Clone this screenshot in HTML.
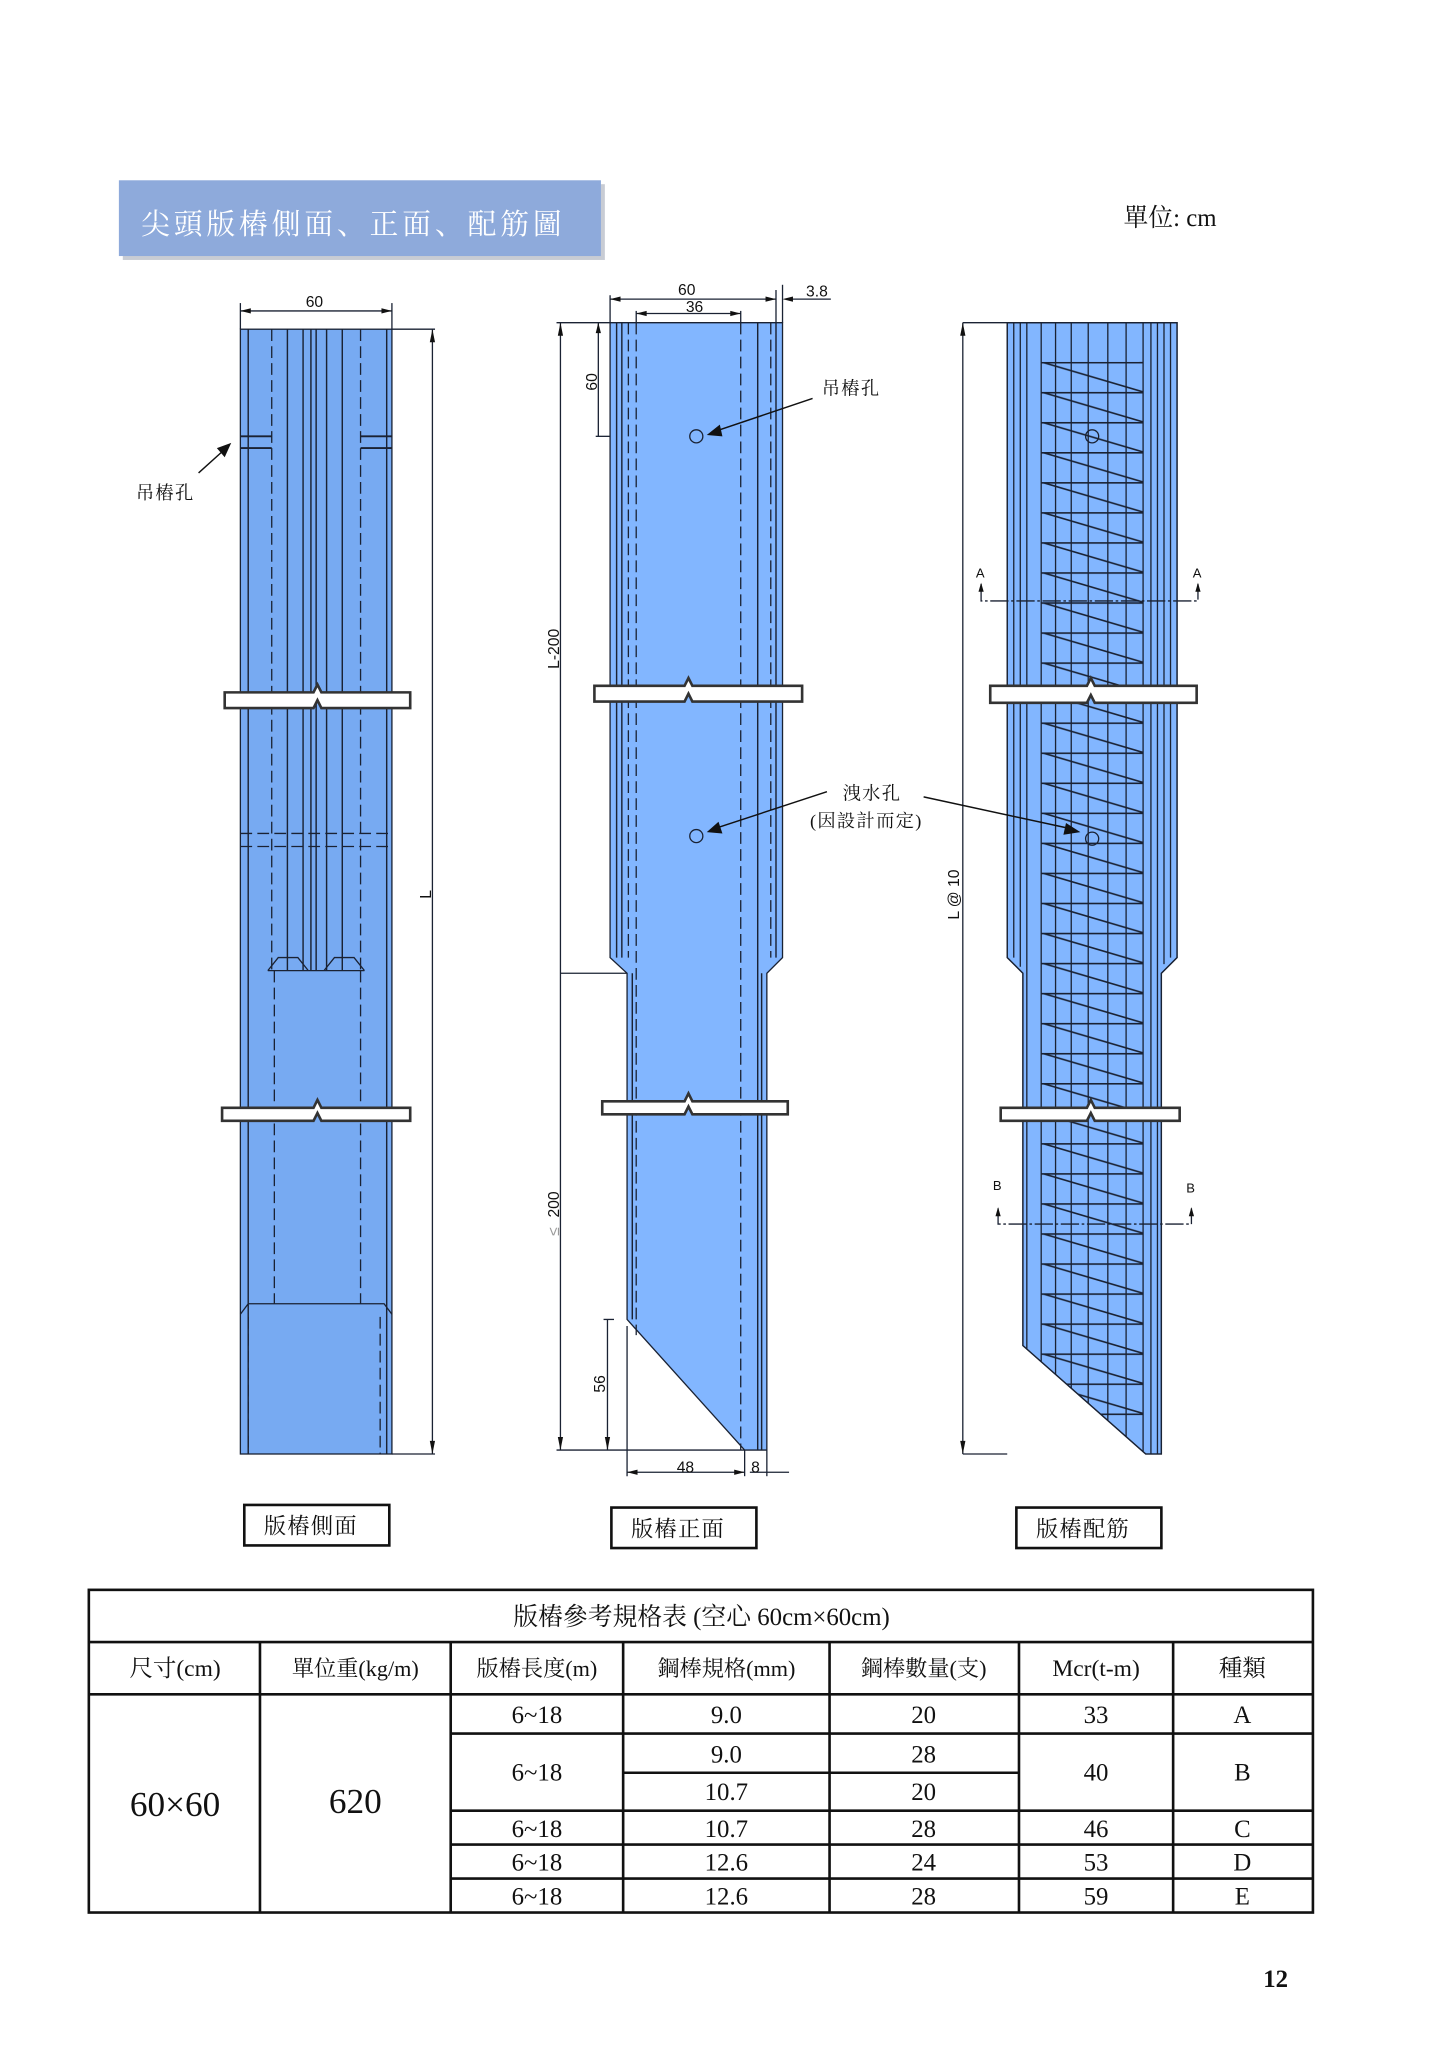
<!DOCTYPE html>
<html><head><meta charset="utf-8"><style>
html,body{margin:0;padding:0;background:#fff;width:1448px;height:2048px;overflow:hidden}
svg{display:block}
text{font-family:"Liberation Serif","Noto Serif CJK SC",serif;fill:#111}
.s{font-family:"Liberation Sans","Noto Sans CJK TC",sans-serif}
</style></head><body>
<svg width="1448" height="2048" viewBox="0 0 1108.4 1567.7" preserveAspectRatio="none" xmlns="http://www.w3.org/2000/svg">
<defs>
<pattern id="zz" patternUnits="userSpaceOnUse" x="797" y="277" width="78" height="23">
<line x1="0" y1="0.6" x2="78" y2="0.6" stroke="#1a2233" stroke-width="1.2"/>
<line x1="0" y1="0" x2="78" y2="23" stroke="#1a2233" stroke-width="1.2"/>
</pattern>
<clipPath id="p3c"><path d="M771 247 H901 V733 L889 745 V1113 H877 L783 1030 V745 L771 733 Z"/></clipPath>
</defs>
<rect x="94" y="141" width="369" height="58" fill="#c8ccd4"/>
<rect x="91" y="138" width="369" height="58" fill="#8eaadb"/>
<text x="108" y="179" font-size="22" style="fill:#fff" letter-spacing="3">尖頭版樁側面、正面、配筋圖</text>
<text x="860" y="173" font-size="19">單位: cm</text>

<g stroke="#1a2233" fill="none" stroke-width="1">
<rect x="184" y="252" width="116" height="861" fill="#77aaf2"/>
<g stroke-width="1.1">
<line x1="190" y1="252" x2="190" y2="1113"/><line x1="296" y1="252" x2="296" y2="1113"/>
<line x1="220" y1="252" x2="220" y2="743"/><line x1="232" y1="252" x2="232" y2="743"/>
<line x1="238" y1="252" x2="238" y2="743"/><line x1="242" y1="252" x2="242" y2="743"/>
<line x1="250" y1="252" x2="250" y2="743"/><line x1="262" y1="252" x2="262" y2="743"/>
</g>
<g stroke-dasharray="9,4">
<line x1="208" y1="252" x2="208" y2="743"/><line x1="276" y1="252" x2="276" y2="743"/>
<line x1="210" y1="743" x2="210" y2="998"/><line x1="276" y1="743" x2="276" y2="998"/>
<line x1="190" y1="1008" x2="190" y2="1113"/><line x1="291" y1="1008" x2="291" y2="1113"/>
<line x1="184" y1="638" x2="300" y2="638"/><line x1="184" y1="648" x2="300" y2="648"/>
</g>
<path d="M205 743 L213 733 L228 733 L236 743 M248 743 L256 733 L271 733 L279 743 M205 743 H279"/>
<path d="M184 1006 L190 998 H294 L300 1006"/>
<path d="M184 334 H208 M184 343 H208 M276 334 H300 M276 343 H300" stroke-width="1.4"/>
<line x1="184" y1="232" x2="184" y2="252"/><line x1="300" y1="232" x2="300" y2="252"/>
<line x1="184" y1="238" x2="300" y2="238"/>
<line x1="300" y1="252" x2="333" y2="252"/><line x1="300" y1="1113" x2="333" y2="1113"/>
<line x1="331" y1="252" x2="331" y2="1113"/>

<path d="M467 247 H599 V733 L587 745 V1110 H570 L480 1010 V745 L467 733 Z" fill="#82b6ff"/>
<g stroke-width="1.1">
<line x1="472" y1="247" x2="472" y2="733"/><line x1="476" y1="247" x2="476" y2="733"/>
<line x1="594" y1="247" x2="594" y2="733"/><line x1="580" y1="247" x2="580" y2="1110"/>
<line x1="484" y1="745" x2="484" y2="1010"/><line x1="583" y1="745" x2="583" y2="1110"/>
</g>
<g stroke-dasharray="9,4">
<line x1="481" y1="247" x2="481" y2="733"/><line x1="487" y1="247" x2="487" y2="1022"/>
<line x1="567" y1="247" x2="567" y2="1110"/><line x1="590" y1="247" x2="590" y2="733"/>
</g>
<circle cx="533" cy="334" r="5"/><circle cx="533" cy="640" r="5"/>
<line x1="467" y1="226" x2="467" y2="247"/><line x1="599" y1="218" x2="599" y2="247"/>
<line x1="487" y1="238" x2="487" y2="247"/><line x1="567" y1="238" x2="567" y2="247"/>
<line x1="467" y1="229" x2="594" y2="229"/><line x1="487" y1="240" x2="567" y2="240"/>
<line x1="603" y1="229" x2="636" y2="229"/><line x1="594" y1="222" x2="594" y2="247"/>
<line x1="426" y1="247" x2="467" y2="247"/>
<line x1="429" y1="247" x2="429" y2="1110"/>
<line x1="429" y1="745" x2="480" y2="745"/>
<line x1="458" y1="247" x2="458" y2="334"/><line x1="456" y1="334" x2="467" y2="334"/>
<line x1="426" y1="1110" x2="570" y2="1110"/>
<line x1="465" y1="1010" x2="465" y2="1110"/><line x1="462" y1="1010" x2="470" y2="1010"/>
<line x1="480" y1="1015" x2="480" y2="1130"/><line x1="570" y1="1110" x2="570" y2="1130"/>
<line x1="587" y1="1110" x2="587" y2="1130"/>
<line x1="480" y1="1127" x2="570" y2="1127"/><line x1="574" y1="1127" x2="604" y2="1127"/>

<path d="M771 247 H901 V733 L889 745 V1113 H877 L783 1030 V745 L771 733 Z" fill="#82b6ff"/>
<g clip-path="url(#p3c)">
<rect x="797" y="277" width="78" height="808" fill="url(#zz)" stroke="none"/>
<g stroke-width="1">
<line x1="776" y1="247" x2="776" y2="733"/><line x1="781" y1="247" x2="781" y2="740"/>
<line x1="786" y1="247" x2="786" y2="1113"/><line x1="797" y1="247" x2="797" y2="1113"/>
<line x1="808" y1="247" x2="808" y2="1113"/><line x1="820" y1="247" x2="820" y2="1113"/>
<line x1="833" y1="247" x2="833" y2="1113"/><line x1="848" y1="247" x2="848" y2="1113"/>
<line x1="862" y1="247" x2="862" y2="1113"/><line x1="875" y1="247" x2="875" y2="1113"/>
<line x1="881" y1="247" x2="881" y2="1113"/><line x1="886" y1="247" x2="886" y2="1113"/>
<line x1="891" y1="247" x2="891" y2="738"/><line x1="896" y1="247" x2="896" y2="733"/>
</g>
</g>
<path d="M771 247 H901 V733 L889 745 V1113 H877 L783 1030 V745 L771 733 Z"/>
<circle cx="836" cy="334" r="5"/><circle cx="836" cy="642" r="5"/>
<line x1="737" y1="247" x2="771" y2="247"/><line x1="737" y1="247" x2="737" y2="1113"/>
<line x1="737" y1="1113" x2="771" y2="1113"/>
<path d="M751 447 V460 H917 V447" stroke-dasharray="14,2,2,2"/>
<path d="M764 925 V937 H912 V925" stroke-dasharray="14,2,2,2"/>
</g>
<g fill="#111">
<polygon points="331,252 329,262 333,262"/><polygon points="331,1113 329,1103 333,1103"/>
<polygon points="184,238 192,236 192,240"/><polygon points="300,238 292,236 292,240"/>
<polygon points="467,229 475,227 475,231"/><polygon points="594,229 586,227 586,231"/>
<polygon points="599,229 607,227 607,231"/>
<polygon points="487,240 495,238 495,242"/><polygon points="567,240 559,238 559,242"/>
<polygon points="429,247 427,257 431,257"/><polygon points="429,1110 427,1100 431,1100"/>
<polygon points="737,247 735,257 739,257"/><polygon points="737,1113 735,1103 739,1103"/>
<polygon points="480,1127 488,1125 488,1129"/><polygon points="570,1127 562,1125 562,1129"/>
<polygon points="465,1110 463,1100 467,1100"/><polygon points="458,247 456,255 460,255"/>
<polygon points="751,446 749,453 753,453"/><polygon points="917,446 915,453 919,453"/>
<polygon points="764,924 762,931 766,931"/><polygon points="912,924 910,931 914,931"/>
</g>
<g stroke="#111" stroke-width="1.1">
<line x1="152" y1="362" x2="172" y2="344"/>
<line x1="622" y1="305" x2="548" y2="330"/>
<line x1="633" y1="606" x2="548" y2="634"/>
<line x1="707" y1="610" x2="818" y2="634"/>
</g>
<g fill="#111">
<polygon points="177,339 166,343 172,350"/>
<polygon points="541,333 551,325 553,334"/>
<polygon points="541,637 550,629 553,638"/>
<polygon points="827,637 816,630 814,639"/>
</g>
<g stroke="#333" stroke-width="2" fill="#fff">
<path d="M172 530 H240 L243 524 L246 530 H314 V542 H246 L243 536 L240 542 H172 Z"/>
<path d="M170 848 H240 L243 842 L246 848 H314 V858 H246 L243 852 L240 858 H170 Z"/>
<path d="M455 525 H524 L527 519 L530 525 H614 V537 H530 L527 531 L524 537 H455 Z"/>
<path d="M461 843 H524 L527 837 L530 843 H603 V853 H530 L527 847 L524 853 H461 Z"/>
<path d="M758 525 H832 L835 519 L838 525 H916 V538 H838 L835 532 L832 538 H758 Z"/>
<path d="M766 848 H832 L835 842 L838 848 H903 V858 H838 L835 852 L832 858 H766 Z"/>
</g>
<g class="s" font-size="12">
<text class="s" x="234" y="235">60</text>
<text class="s" x="519" y="226">60</text>
<text class="s" x="525" y="239">36</text>
<text class="s" x="617" y="227">3.8</text>
<text class="s" x="518" y="1127">48</text>
<text class="s" x="575" y="1127">8</text>
<text class="s" transform="translate(457,299) rotate(-90)">60</text>
<text class="s" transform="translate(428,512) rotate(-90)">L-200</text>
<text class="s" transform="translate(428,932) rotate(-90)">200</text>
<text class="s" style="fill:#999" transform="translate(428,946) rotate(-90)">≤</text>
<text class="s" transform="translate(463,1066) rotate(-90)">56</text>
<text class="s" transform="translate(330,688) rotate(-90)">L</text>
<text class="s" transform="translate(734,704) rotate(-90)">L @ 10</text>
<text class="s" x="747" y="442" font-size="10">A</text>
<text class="s" x="913" y="442" font-size="10">A</text>
<text class="s" x="760" y="911" font-size="10">B</text>
<text class="s" x="908" y="913" font-size="10">B</text>
</g>
<g font-size="14">
<text x="104" y="382" letter-spacing="1">吊樁孔</text>
<text x="629" y="302" letter-spacing="1">吊樁孔</text>
<text x="645" y="612" letter-spacing="1">洩水孔</text>
<text x="620" y="633" letter-spacing="1">(因設計而定)</text>
</g>
<g stroke="#111" stroke-width="2" fill="none">
<rect x="187" y="1152" width="111" height="31"/>
<rect x="468" y="1154" width="111" height="31"/>
<rect x="778" y="1154" width="111" height="31"/>
</g>
<g font-size="17" letter-spacing="1">
<text x="202" y="1174">版樁側面</text>
<text x="483" y="1176">版樁正面</text>
<text x="793" y="1176">版樁配筋</text>
</g>
<g stroke="#111" stroke-width="2" fill="none">
<rect x="68" y="1217" width="937" height="247"/>
<line x1="68" y1="1257" x2="1005" y2="1257"/>
<line x1="68" y1="1297" x2="1005" y2="1297"/>
<line x1="345" y1="1327" x2="1005" y2="1327"/>
<line x1="477" y1="1357" x2="780" y2="1357"/>
<line x1="345" y1="1386" x2="1005" y2="1386"/>
<line x1="345" y1="1412" x2="1005" y2="1412"/>
<line x1="345" y1="1438" x2="1005" y2="1438"/>
<line x1="199" y1="1257" x2="199" y2="1464"/><line x1="345" y1="1257" x2="345" y2="1464"/>
<line x1="477" y1="1257" x2="477" y2="1464"/><line x1="635" y1="1257" x2="635" y2="1464"/>
<line x1="780" y1="1257" x2="780" y2="1464"/><line x1="898" y1="1257" x2="898" y2="1464"/>
</g>
<g font-size="19" text-anchor="middle">
<text x="537" y="1244">版樁參考規格表 (空心 60cm×60cm)</text>
<text x="134" y="1283" font-size="18">尺寸(cm)</text>
<text x="272" y="1283" font-size="17">單位重(kg/m)</text>
<text x="411" y="1283" font-size="17">版樁長度(m)</text>
<text x="556" y="1283" font-size="17">鋼棒規格(mm)</text>
<text x="707" y="1283" font-size="17">鋼棒數量(支)</text>
<text x="839" y="1283" font-size="18">Mcr(t-m)</text>
<text x="951" y="1283" font-size="18">種類</text>
<text x="134" y="1390" font-size="27">60×60</text>
<text x="272" y="1388" font-size="27">620</text>
<text x="411" y="1319">6~18</text><text x="556" y="1319">9.0</text><text x="707" y="1319">20</text><text x="839" y="1319">33</text><text x="951" y="1319">A</text>
<text x="411" y="1363">6~18</text><text x="556" y="1349">9.0</text><text x="707" y="1349">28</text><text x="839" y="1363">40</text><text x="951" y="1363">B</text>
<text x="556" y="1378">10.7</text><text x="707" y="1378">20</text>
<text x="411" y="1406">6~18</text><text x="556" y="1406">10.7</text><text x="707" y="1406">28</text><text x="839" y="1406">46</text><text x="951" y="1406">C</text>
<text x="411" y="1432">6~18</text><text x="556" y="1432">12.6</text><text x="707" y="1432">24</text><text x="839" y="1432">53</text><text x="951" y="1432">D</text>
<text x="411" y="1458">6~18</text><text x="556" y="1458">12.6</text><text x="707" y="1458">28</text><text x="839" y="1458">59</text><text x="951" y="1458">E</text>
</g>
<text x="967" y="1521" font-size="19" font-weight="bold">12</text>
</svg>
</body></html>
